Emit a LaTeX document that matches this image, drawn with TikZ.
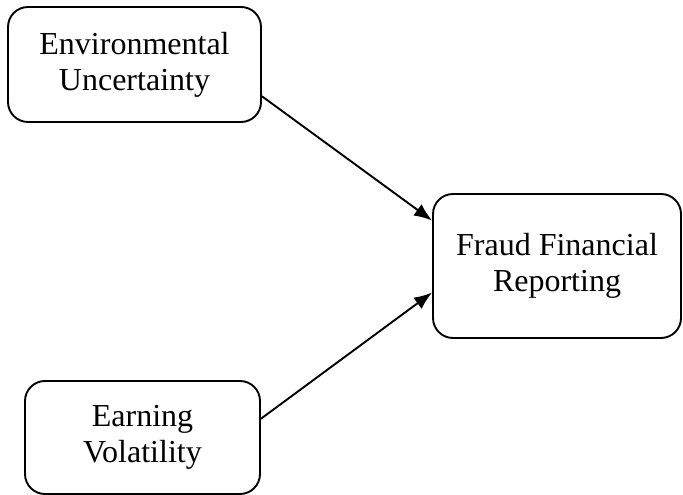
\documentclass[tikz,border=0pt]{standalone}
\usepackage{fontspec}
\setmainfont{Liberation Serif}
\usetikzlibrary{arrows.meta}

\begin{document}
\begin{tikzpicture}[x=1pt,y=1pt,
    box/.style={draw, line width=1.9pt, rounded corners=20pt, align=center,
      inner sep=0pt, font=\fontsize{32}{36}\selectfont},
    link/.style={line width=1.9pt, -{Latex[length=18pt,width=14pt]}}]
      \useasboundingbox (0,0) rectangle (683,495);
      \node[box, minimum width=253pt, minimum height=115pt] (env) at (134.5,430.5) {Environmental\\Uncertainty};
      \node[box, minimum width=248pt, minimum height=144pt] (fraud) at (557,229) {Fraud Financial\\Reporting};
      \node[box, minimum width=235pt, minimum height=113pt] (vol) at (142.5,57.5) {Earning\\Volatility};
      \draw[link] (env.-14) -- (fraud.160.5);
      \draw[link] (vol.9.5) -- (fraud.192);
     \end{tikzpicture}
\end{document}
